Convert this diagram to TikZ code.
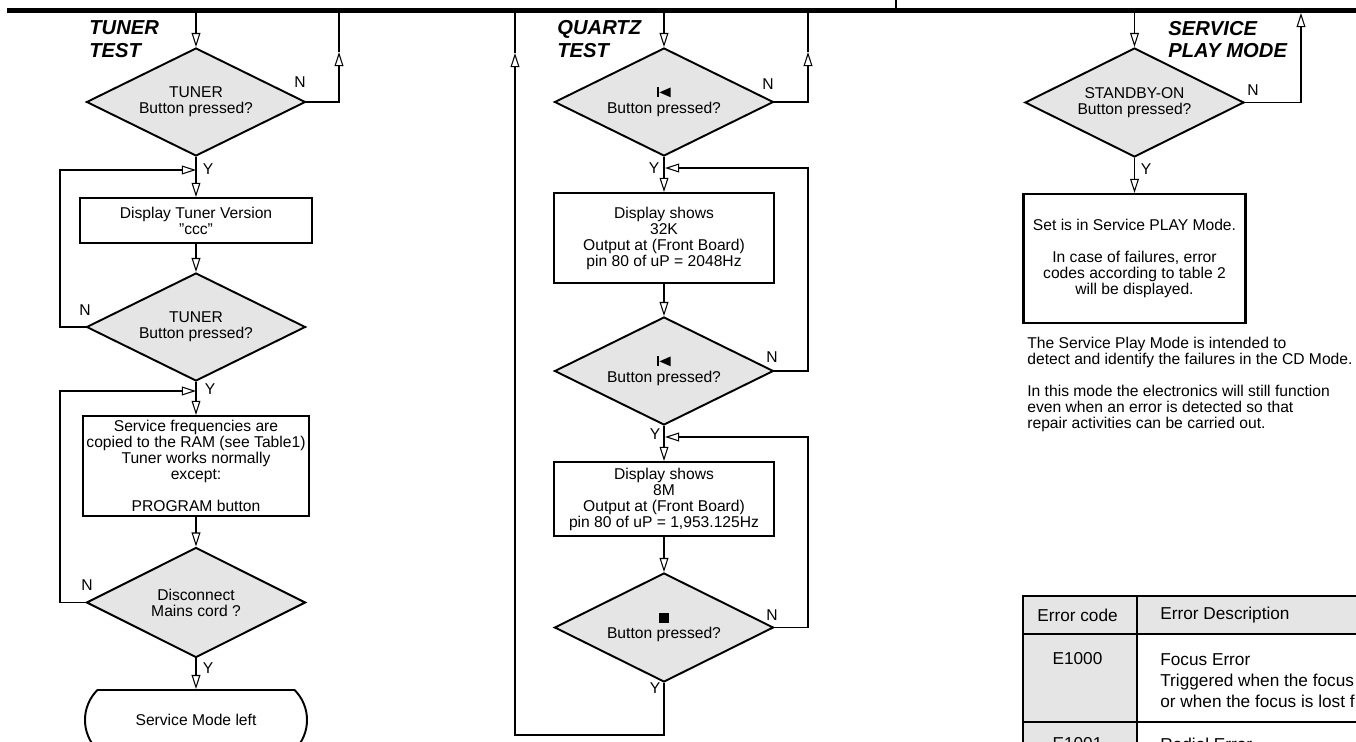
\documentclass[tikz,border=0pt]{standalone}
\usepackage{fontspec}
\setmainfont{Liberation Sans}
\usetikzlibrary{arrows.meta,shapes.geometric,shapes.misc}
\definecolor{shadegray}{gray}{0.9}
\newcommand{\flowfont}{\fontsize{8.9pt}{9.1pt}\selectfont}
\newcommand{\headfont}{\fontsize{11.5pt}{13pt}\selectfont\bfseries\itshape}
\newcommand{\tabfont}{\fontsize{9.8pt}{12pt}\selectfont}
\newcommand{\prevbtn}{\tikz[x=1pt,y=1pt]{\fill (0,0) rectangle (0.7,5.6); \fill (1.2,2.8) -- (7.6,5.6) -- (7.6,0) -- cycle;}}
\newcommand{\stopbtn}{\rule{5.4pt}{5.4pt}}

\begin{document}
\begin{tikzpicture}[x=1cm,y=1cm]
\tikzset{
  decisionnode/.style={diamond,aspect=2,draw=black,line width=1.1pt,fill=shadegray,inner sep=0pt,align=center,font=\flowfont,minimum width=4.38cm,minimum height=2.16cm},
  processnode/.style={rectangle,draw=black,line width=1.25pt,inner sep=0pt,align=center,font=\flowfont},
  terminalnode/.style={rounded rectangle,rounded rectangle arc length=90,draw=black,line width=1.1pt,inner sep=0pt,font=\flowfont},
  flowedge/.style={draw=black,line width=0.6pt},
  directed/.style={flowedge,-{Triangle[open,length=8pt,width=5pt]}},
  yn/.style={font=\flowfont,inner sep=0pt},
  heading/.style={font=\headfont,align=left,anchor=west,inner sep=0pt},
  tabtext/.style={font=\tabfont,inner sep=0pt},
  tableline/.style={draw=black,line width=1.1pt}
}
\useasboundingbox (0,0) rectangle (27.12,-14.84);

% bus at the top
\draw[line width=2.5pt] (0.14,-0.21) -- (27.3,-0.21);
\draw[flowedge] (17.92,0.1) -- (17.92,-0.2);

% tuner test
\node[heading] (h_tuner) at (1.78,-0.78) {TUNER\\TEST};
\node[decisionnode] (n_T1) at (3.92,-2.04) {TUNER\\Button pressed?};
\node[processnode,minimum width=4.64cm,minimum height=0.90cm] (n_T2) at (3.92,-4.41) {Display Tuner Version\\\char34 ccc\char34};
\node[decisionnode] (n_T3) at (3.92,-6.54) {TUNER\\Button pressed?};
\node[processnode,minimum width=4.52cm,minimum height=2.00cm] (n_T4) at (3.92,-9.32) {Service frequencies are\\copied to the RAM (see Table1)\\Tuner works normally\\except:\\[9.1pt]PROGRAM button};
\node[decisionnode,minimum height=2.2cm] (n_T5) at (3.92,-12.05) {Disconnect\\Mains cord ?};
\node[terminalnode,minimum width=4.44cm,minimum height=1.2cm] (n_T6) at (3.92,-14.40) {Service Mode left};
\coordinate (b_T) at (3.92,-0.26);
\coordinate (b_TN) at (6.78,-0.26);
\coordinate (u_TN) at (6.78,-1.04);
\coordinate (j_T1) at (3.92,-3.40);
\coordinate (j_T2) at (3.92,-7.82);
\draw[directed] (b_T) -- (n_T1.north);
\draw[directed] (n_T1.east) -| (u_TN);
\draw[flowedge] (u_TN) -- (b_TN);
\draw[directed] (n_T1.south) -- (n_T2.north);
\draw[directed] (n_T2.south) -- (n_T3.north);
\draw[directed] (n_T3.south) -- (n_T4.north);
\draw[directed] (n_T4.south) -- (n_T5.north);
\draw[directed] (n_T5.south) -- (n_T6.north);
\draw[directed] (n_T3.west) -- (1.20,-6.54) |- (j_T1);
\draw[directed] (n_T5.west) -- (1.20,-12.05) |- (j_T2);
\node[yn] (l_T1n) at (6.00,-1.64) {N};
\node[yn] (l_T1y) at (4.16,-3.38) {Y};
\node[yn] (l_T3n) at (1.70,-6.20) {N};
\node[yn] (l_T3y) at (4.20,-7.78) {Y};
\node[yn] (l_T5n) at (1.74,-11.70) {N};
\node[yn] (l_T5y) at (4.16,-13.36) {Y};

% quartz test
\node[heading] (h_quartz) at (11.14,-0.78) {QUARTZ\\TEST};
\node[decisionnode] (n_Q1) at (13.28,-2.04) {\prevbtn\\Button pressed?};
\node[processnode,minimum width=4.40cm,minimum height=1.80cm] (n_Q2) at (13.28,-4.76) {Display shows\\32K\\Output at (Front Board)\\pin 80 of uP = 2048Hz};
\node[decisionnode] (n_Q3) at (13.28,-7.42) {\prevbtn\\Button pressed?};
\node[processnode,minimum width=4.40cm,minimum height=1.48cm] (n_Q4) at (13.28,-9.98) {Display shows\\8M\\Output at (Front Board)\\pin 80 of uP = 1,953.125Hz};
\node[decisionnode,minimum height=2.18cm] (n_Q5) at (13.28,-12.55) {\stopbtn\\Button pressed?};
\coordinate (b_Q) at (13.28,-0.26);
\coordinate (b_QN) at (16.16,-0.26);
\coordinate (u_QN) at (16.16,-1.04);
\coordinate (b_QL) at (10.30,-0.26);
\coordinate (u_QL) at (10.30,-1.06);
\coordinate (j_Q1) at (13.30,-3.36);
\coordinate (j_Q2) at (13.30,-8.74);
\draw[directed] (b_Q) -- (n_Q1.north);
\draw[directed] (n_Q1.east) -| (u_QN);
\draw[flowedge] (u_QN) -- (b_QN);
\draw[directed] (n_Q1.south) -- (n_Q2.north);
\draw[directed] (n_Q2.south) -- (n_Q3.north);
\draw[directed] (n_Q3.south) -- (n_Q4.north);
\draw[directed] (n_Q4.south) -- (n_Q5.north);
\draw[directed] (n_Q3.east) -- (16.16,-7.42) |- (j_Q1);
\draw[directed] (n_Q5.east) -- (16.16,-12.55) |- (j_Q2);
\draw[directed] (n_Q5.south) -- (13.28,-14.70) -| (u_QL);
\draw[flowedge] (u_QL) -- (b_QL);
\node[yn] (l_Q1n) at (15.36,-1.68) {N};
\node[yn] (l_Q1y) at (13.08,-3.36) {Y};
\node[yn] (l_Q3n) at (15.44,-7.14) {N};
\node[yn] (l_Q3y) at (13.10,-8.68) {Y};
\node[yn] (l_Q5n) at (15.44,-12.30) {N};
\node[yn] (l_Q5y) at (13.10,-13.76) {Y};

% service play mode
\node[heading] (h_play) at (23.36,-0.79) {SERVICE\\PLAY MODE};
\node[decisionnode,minimum height=2.18cm] (n_S1) at (22.69,-2.05) {STANDBY-ON\\Button pressed?};
\node[processnode,minimum width=4.44cm,minimum height=2.58cm] (n_S2) at (22.69,-5.17) {Set is in Service PLAY Mode.\\[9.1pt]In case of failures, error\\codes according to table 2\\will be displayed.};
\coordinate (b_S) at (22.69,-0.26);
\coordinate (b_SN) at (26.02,-0.26);
\draw[directed] (b_S) -- (n_S1.north);
\draw[directed] (n_S1.east) -| (b_SN);
\draw[directed] (n_S1.south) -- (n_S2.north);
\node[yn] (l_S1n) at (25.06,-1.80) {N};
\node[yn] (l_S1y) at (22.92,-3.38) {Y};
\node[font=\flowfont,align=left,anchor=west,inner sep=0pt] (n_note) at (20.54,-7.69) {The Service Play Mode is intended to\\detect and identify the failures in the CD Mode.\\[9.1pt]In this mode the electronics will still function\\even when an error is detected so that\\repair activities can be carried out.};

% error table
\fill[shadegray] (20.46,-11.92) rectangle (27.3,-12.68);
\fill[shadegray] (20.46,-12.68) rectangle (22.74,-15.0);
\draw[tableline] (27.3,-11.92) -- (20.46,-11.92) -- (20.46,-15.0);
\draw[tableline] (22.74,-11.92) -- (22.74,-15.0);
\draw[tableline] (20.46,-12.68) -- (27.3,-12.68);
\draw[tableline] (20.46,-14.44) -- (27.3,-14.44);
\node[tabtext] (t_code) at (21.55,-12.30) {Error code};
\node[tabtext,anchor=west] (t_desc) at (23.20,-12.30) {Error Description};
\node[tabtext] (t_e1000) at (21.55,-13.18) {E1000};
\node[tabtext,anchor=west,align=left] (t_e1000d) at (23.20,-13.61) {Focus Error\\Triggered when the focus\\or when the focus is lost f};
\node[tabtext] (t_e1001) at (21.55,-14.88) {E1001};
\node[tabtext,anchor=west] (t_e1001d) at (23.20,-14.88) {Radial Error};
\end{tikzpicture}
\end{document}
